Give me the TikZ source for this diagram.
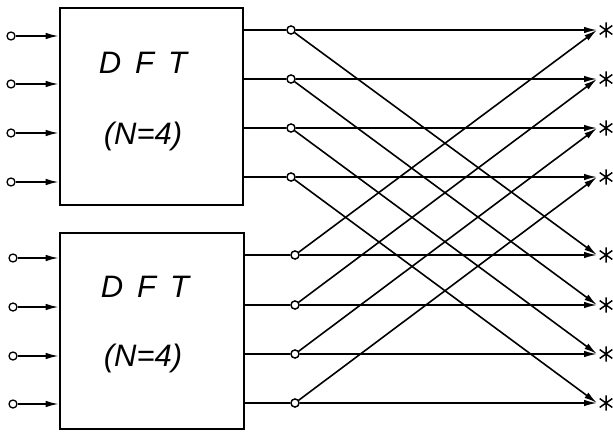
\documentclass[tikz,border=0pt]{standalone}
\usepackage{fontspec}
\setmainfont{Liberation Sans}
\usetikzlibrary{arrows.meta}
\begin{document}
\begin{tikzpicture}[x=1pt,y=-1pt,
  dftbox/.style={draw, line width=2.6pt, inner sep=0pt},
  lbl/.style={font=\fontsize{31}{31}\selectfont\itshape, inner sep=0pt},
  port/.style={circle, draw, line width=1.3pt, fill=white, inner sep=0pt, minimum size=8pt},
  star/.style={circle, inner sep=0pt, minimum size=15pt},
  wire/.style={line width=1.7pt},
  arr/.style={line width=1.6pt, -{Latex[length=13pt,width=6.5pt]}}
]
\useasboundingbox (0,0) rectangle (613,431);
% boxes
\node[dftbox, minimum width=183pt, minimum height=197pt] (box1) at (151.5,106.5) {};
\node[dftbox, minimum width=184pt, minimum height=196pt] (box2) at (152,331) {};
\node[lbl] (t1) at (143,63) {D\hspace{0.45em}F\hspace{0.45em}T};
\node[lbl] (n1) at (143,136) {(N=4)};
\node[lbl] (t2) at (145,287) {D\hspace{0.45em}F\hspace{0.45em}T};
\node[lbl] (n2) at (143,358) {(N=4)};
% inputs
\foreach \i/\y in {1/36,2/84,3/133,4/182}{
  \node[port] (in\i) at (11,\y) {};
  \draw[arr] (in\i) -- (in\i -| box1.west);
}
\foreach \i/\y in {5/258,6/307,7/356,8/404}{
  \node[port] (in\i) at (13,\y) {};
  \draw[arr] (in\i) -- (in\i -| box2.west);
}
% targets and stars
\foreach \i/\y in {1/30,2/79,3/128,4/177,5/255,6/305,7/354,8/403}{
  \coordinate (t\i) at (597,\y);
  \node[star] (s\i) at (606,\y) {};
  \draw[line width=1.5pt] (s\i.90) -- (s\i.-90) (s\i.35) -- (s\i.215) (s\i.145) -- (s\i.-35);
}
% butterfly nodes
\foreach \i/\y in {1/30,2/79,3/128,4/177}{
  \node[port] (m\i) at (291,\y) {};
  \draw[wire] (box1.east |- m\i) -- (m\i);
}
\foreach \i/\y in {5/255,6/305,7/354,8/403}{
  \node[port] (m\i) at (295,\y) {};
  \draw[wire] (box2.east |- m\i) -- (m\i);
}
\foreach \a/\b in {1/5,2/6,3/7,4/8}{
  \draw[arr] (m\a) -- (t\a);
  \draw[arr] (m\b) -- (t\b);
  \draw[arr] (m\a) -- (t\b);
  \draw[arr] (m\b) -- (t\a);
}
% redraw ports on top
\foreach \i in {1,...,8}{
  \node[port] at (m\i) {};
}
\end{tikzpicture}
\end{document}
